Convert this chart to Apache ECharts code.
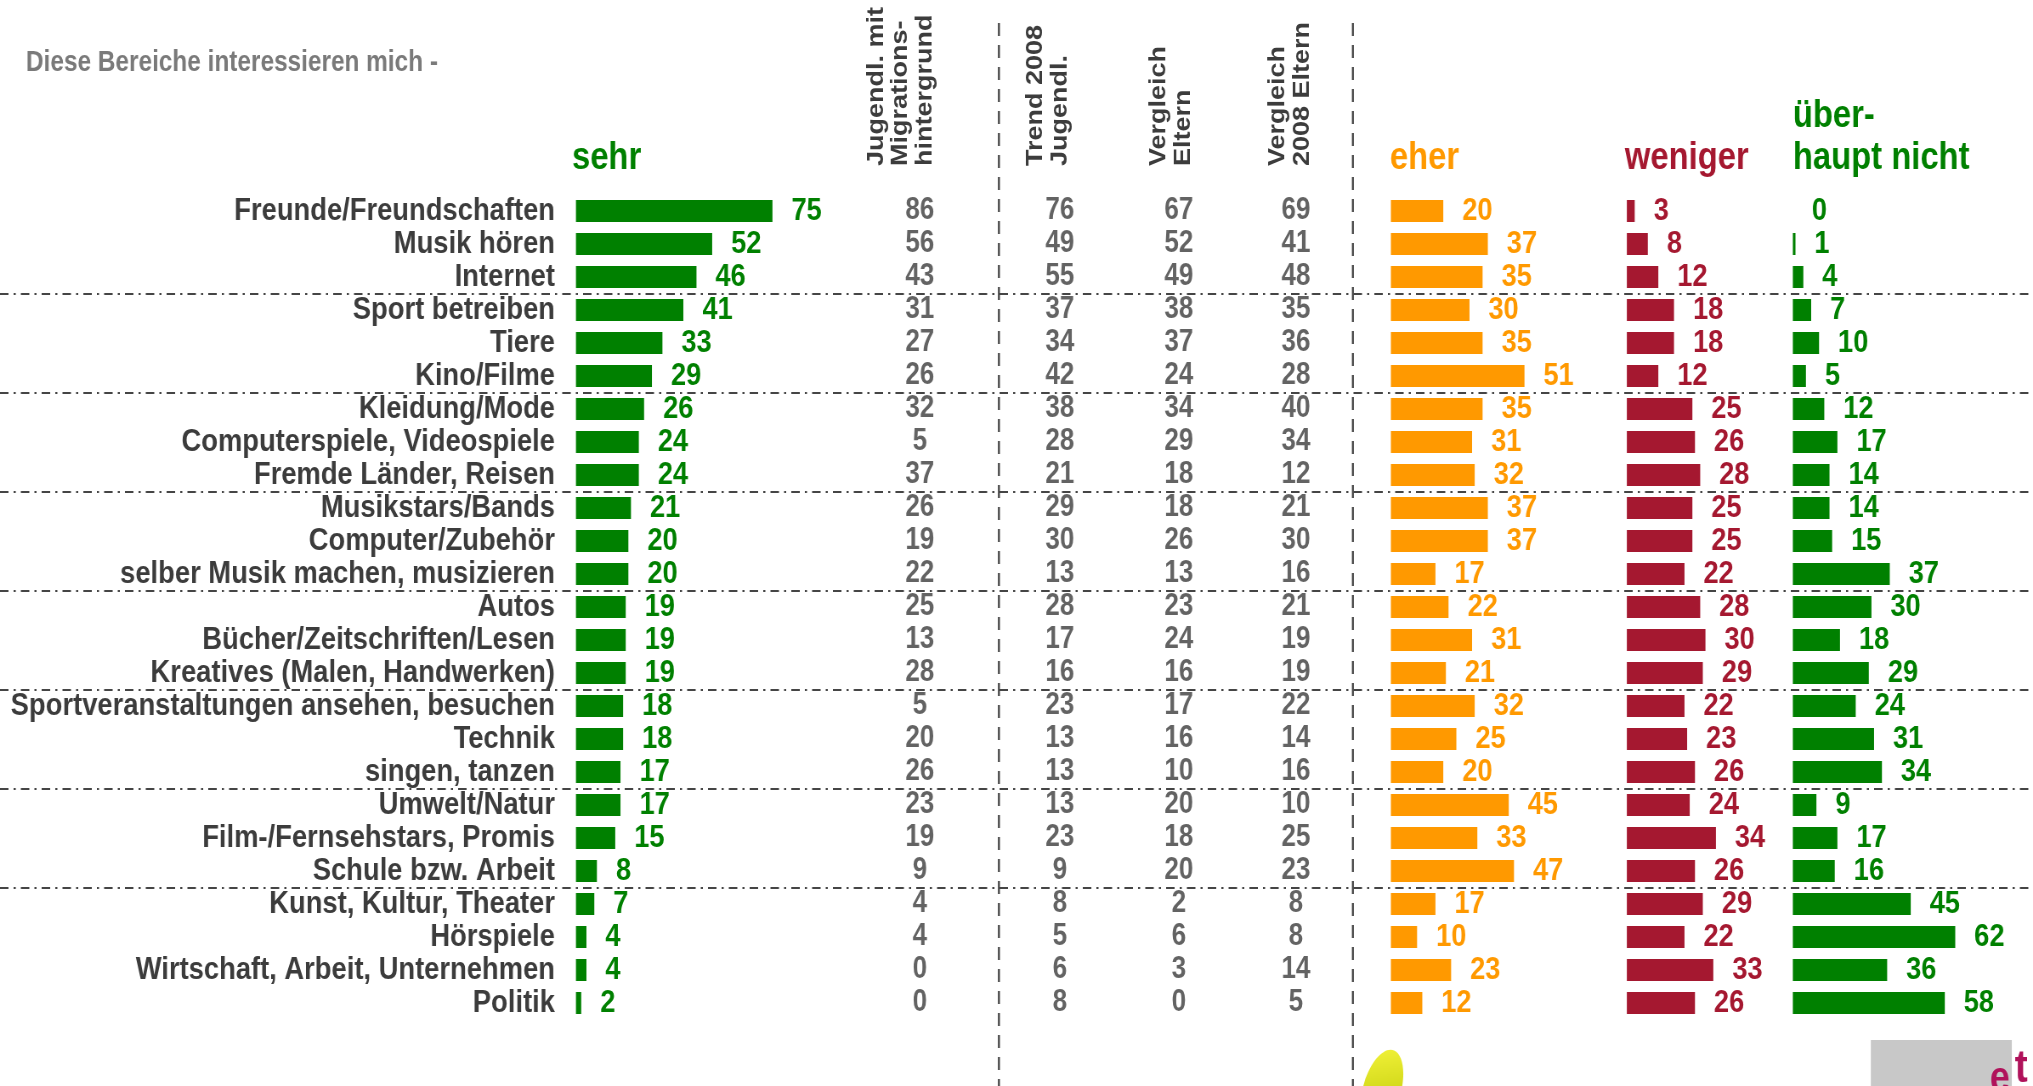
<!DOCTYPE html>
<html>
<head>
<meta charset="utf-8">
<script src="https://cdn.jsdelivr.net/npm/echarts@6/dist/echarts.min.js"></script>
<style>
html,body{margin:0;padding:0;background:#ffffff;overflow:hidden;}
#wrap{width:2033px;height:1086px;overflow:hidden;position:relative;}
#c{height:1086px;transform-origin:0 0;position:absolute;left:0;top:0;}
</style>
</head>
<body>
<div id="wrap"><div id="c"></div></div>
<script>
// ---------------- DATA ----------------
const title = 'Diese Bereiche interessieren mich -';
const categories = [
  'Freunde/Freundschaften', 'Musik hören', 'Internet',
  'Sport betreiben', 'Tiere', 'Kino/Filme',
  'Kleidung/Mode', 'Computerspiele, Videospiele', 'Fremde Länder, Reisen',
  'Musikstars/Bands', 'Computer/Zubehör', 'selber Musik machen, musizieren',
  'Autos', 'Bücher/Zeitschriften/Lesen', 'Kreatives (Malen, Handwerken)',
  'Sportveranstaltungen ansehen, besuchen', 'Technik', 'singen, tanzen',
  'Umwelt/Natur', 'Film-/Fernsehstars, Promis', 'Schule bzw. Arbeit',
  'Kunst, Kultur, Theater', 'Hörspiele', 'Wirtschaft, Arbeit, Unternehmen',
  'Politik'
];
const sehr       = [75, 52, 46, 41, 33, 29, 26, 24, 24, 21, 20, 20, 19, 19, 19, 18, 18, 17, 17, 15, 8, 7, 4, 4, 2];
const migration  = [86, 56, 43, 31, 27, 26, 32, 5, 37, 26, 19, 22, 25, 13, 28, 5, 20, 26, 23, 19, 9, 4, 4, 0, 0];
const trend2008  = [76, 49, 55, 37, 34, 42, 38, 28, 21, 29, 30, 13, 28, 17, 16, 23, 13, 13, 13, 23, 9, 8, 5, 6, 8];
const eltern     = [67, 52, 49, 38, 37, 24, 34, 29, 18, 18, 26, 13, 23, 24, 16, 17, 16, 10, 20, 18, 20, 2, 6, 3, 0];
const eltern2008 = [69, 41, 48, 35, 36, 28, 40, 34, 12, 21, 30, 16, 21, 19, 19, 22, 14, 16, 10, 25, 23, 8, 8, 14, 5];
const eher       = [20, 37, 35, 30, 35, 51, 35, 31, 32, 37, 37, 17, 22, 31, 21, 32, 25, 20, 45, 33, 47, 17, 10, 23, 12];
const weniger    = [3, 8, 12, 18, 18, 12, 25, 26, 28, 25, 25, 22, 28, 30, 29, 22, 23, 26, 24, 34, 26, 29, 22, 33, 26];
const ueberhaupt = [0, 1, 4, 7, 10, 5, 12, 17, 14, 14, 15, 37, 30, 18, 29, 24, 31, 34, 9, 17, 16, 45, 62, 36, 58];
const columnHeaders = [
  'Jugendl. mit\nMigrations-\nhintergrund',
  'Trend 2008\nJugendl.',
  'Vergleich\nEltern',
  'Vergleich\n2008 Eltern'
];
const barHeaders = ['sehr', 'eher', 'weniger', 'über-', 'haupt nicht'];

// ---------------- STYLE / LAYOUT ----------------
// The reference text is horizontally condensed; the chart is drawn on a wider
// canvas and condensed with a CSS scaleX, so x positions are given in screen px / F.
const F = 0.85;
const W = Math.ceil(2033 / F);
const X = v => v / F;
const el = document.getElementById('c');
el.style.width = W + 'px';
el.style.transform = 'scaleX(' + (2033 / W) + ')';

const FONT = '"Liberation Sans", Arial, Helvetica, sans-serif';
const S = { label: 32.2, num: 30.6, val: 32, head: 38.6, title: 28.7, colHead: 27 };
const GREEN = '#008000', ORANGE = '#FF9900', RED = '#A51830', DARK = '#3C3C3C';
const TOP = 194.5, BOTTOM = 66.5;
const U = 2.62;          // screen px per percent
const MAXV = 80;

function grid(left, width) {
  return { left: left, width: width, top: TOP, bottom: BOTTOM, containLabel: false, outerBoundsMode: 'none' };
}
const colCenters = [920, 1060, 1179, 1296];
const grids = [
  grid(X(576), X(MAXV * U)),            // 0 sehr
  grid(X(colCenters[0]) - 50, 100),     // 1 migration
  grid(X(colCenters[1]) - 50, 100),     // 2 trend 2008
  grid(X(colCenters[2]) - 50, 100),     // 3 eltern
  grid(X(colCenters[3]) - 50, 100),     // 4 eltern 2008
  grid(X(1391), X(MAXV * U)),           // 5 eher
  grid(X(1627), X(MAXV * U)),           // 6 weniger
  grid(X(1793), X(MAXV * U)),           // 7 ueberhaupt
  grid(0, W)                            // 8 separators
];

const xAxes = grids.map((g, i) => {
  if (i === 0 || (i >= 5 && i <= 7)) return { type: 'value', gridIndex: i, min: 0, max: MAXV, show: false };
  return { type: 'value', gridIndex: i, min: -1, max: 1, show: false };
});
const yAxes = grids.map((g, i) => {
  const base = { type: 'category', gridIndex: i, data: categories, inverse: true };
  if (i === 0) {
    return Object.assign(base, {
      axisLine: { show: false }, axisTick: { show: false }, splitLine: { show: false },
      axisLabel: { show: true, interval: 0, margin: X(21), color: DARK, fontSize: S.label, fontWeight: 'bold', fontFamily: FONT }
    });
  }
  if (i === 8) {
    return Object.assign(base, {
      axisLine: { show: false }, axisTick: { show: false }, axisLabel: { show: false },
      splitLine: {
        show: true, showMinLine: true, showMaxLine: false,
        interval: function (idx) { return idx > 0 && idx < categories.length - 1 && idx % 3 === 0; },
        lineStyle: { color: '#454545', width: 2, type: [10, 6, 2.5, 6] }
      }
    });
  }
  return Object.assign(base, { show: false });
});

function barSeries(idx, data, color) {
  return {
    type: 'bar', xAxisIndex: idx, yAxisIndex: idx, data: data, barWidth: 22,
    itemStyle: { color: color },
    label: { show: true, position: 'right', distance: X(19), color: color, fontSize: S.val, fontWeight: 'bold', fontFamily: FONT },
    silent: true
  };
}
function numSeries(idx, data) {
  return {
    type: 'scatter', xAxisIndex: idx, yAxisIndex: idx, symbolSize: 1,
    itemStyle: { color: 'rgba(0,0,0,0)' },
    data: data.map((v, i) => [0, i, v]),
    label: { show: true, position: 'inside', formatter: p => String(p.value[2]), color: DARK, fontSize: S.num, fontWeight: 'bold', fontFamily: FONT },
    silent: true
  };
}

const series = [
  barSeries(0, sehr, GREEN),
  numSeries(1, migration),
  numSeries(2, trend2008),
  numSeries(3, eltern),
  numSeries(4, eltern2008),
  barSeries(5, eher, ORANGE),
  barSeries(6, weniger, RED),
  barSeries(7, ueberhaupt, GREEN)
];

// header texts
const headerColors = [GREEN, ORANGE, RED, GREEN, GREEN];
const headerX = [572, 1390, 1625, 1793, 1793];
const headerY = [158, 158, 158, 116, 158];
const headerGraphics = barHeaders.map((t, i) => ({
  type: 'text', x: X(headerX[i]), y: headerY[i],
  style: { text: t, fill: headerColors[i], font: 'bold ' + S.head + 'px ' + FONT, align: 'left', verticalAlign: 'middle' }
}));
const colHeaderX = [901, 1048, 1171, 1290];
const colHeaderGraphics = columnHeaders.map((t, i) => ({
  type: 'text', x: X(colHeaderX[i]), y: 166, rotation: Math.PI / 2,
  style: { text: t, fill: DARK, font: 'bold ' + S.colHead + 'px ' + FONT, align: 'left', verticalAlign: 'middle', lineHeight: X(24.5) }
}));

const graphics = [
  { type: 'text', x: X(26), y: 63, style: { text: title, fill: '#7A7A7A', font: 'bold ' + S.title + 'px ' + FONT, align: 'left', verticalAlign: 'middle' } },
  { type: 'line', shape: { x1: X(999), y1: 23, x2: X(999), y2: 1086 }, style: { stroke: '#454545', lineWidth: 2.3, lineDash: [13, 9] } },
  { type: 'line', shape: { x1: X(1353), y1: 23, x2: X(1353), y2: 1086 }, style: { stroke: '#454545', lineWidth: 2.3, lineDash: [13, 9] } },
  // logo fragments at the bottom
  { type: 'ellipse', x: X(1382), y: 1090, rotation: -0.35, shape: { cx: 0, cy: 0, rx: 22, ry: 42 },
    style: { fill: { type: 'linear', x: 0, y: 0, x2: 1, y2: 1, colorStops: [{ offset: 0, color: '#f4f43a' }, { offset: 1, color: '#b4c000' }] } } },
  { type: 'rect', shape: { x: X(1871), y: 1040, width: X(141), height: 46 }, style: { fill: '#C8C8C8' } },
  { type: 'text', x: X(2015), y: 1092, style: { text: 't', fill: '#B0125B', font: 'bold 46px ' + FONT, align: 'left', verticalAlign: 'bottom' } },
  { type: 'text', x: X(1990), y: 1100, style: { text: 'e', fill: '#B0125B', font: 'bold 42px ' + FONT, align: 'left', verticalAlign: 'bottom' } }
].concat(headerGraphics, colHeaderGraphics);

const chart = echarts.init(el, null, { renderer: 'canvas', width: W, height: 1086 });
chart.setOption({
  animation: false,
  backgroundColor: '#ffffff',
  grid: grids,
  xAxis: xAxes,
  yAxis: yAxes,
  series: series,
  graphic: graphics
});
</script>
</body>
</html>
